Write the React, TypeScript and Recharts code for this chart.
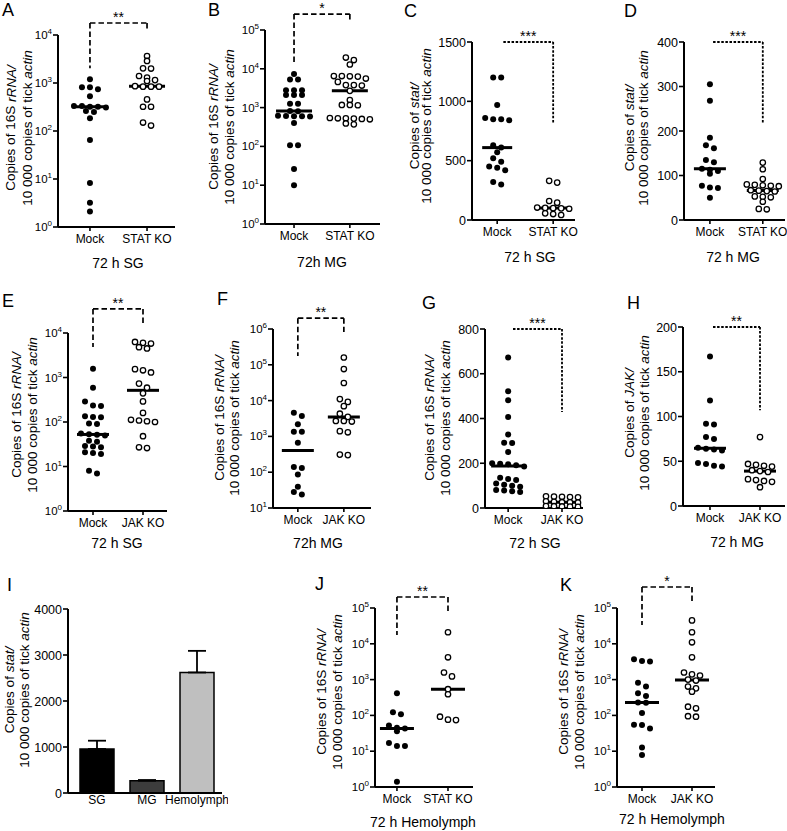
import React from 'react';
import { Bar, BarChart, Cell, ErrorBar, ReferenceLine, Scatter, ScatterChart, XAxis, YAxis } from 'recharts';

const FONT = '"Liberation Sans", Arial, Helvetica, sans-serif';

// A: 16S rRNA, 72 h SG, STAT KO
const aMock = [1200, 820, 820, 740, 530, 330, 330, 320, 320, 310, 260, 250, 185, 65, 8.3, 3.2, 2.1];
const aKo = [3650, 2880, 2020, 2000, 1400, 1300, 1150, 1100, 860, 840, 840, 840, 455, 320, 320, 150, 130];
// B: 16S rRNA, 72h MG, STAT KO
const bMock = [7300, 5300, 5300, 2800, 2800, 2800, 2100, 2100, 2100, 1250, 1250, 820, 800, 620, 610, 600, 600, 590, 400, 107, 107, 26, 10];
const bKo = [19500, 16800, 12900, 6500, 6500, 6400, 6300, 5600, 4600, 3800, 3800, 3700, 2700, 1560, 1170, 1170, 1150, 540, 530, 530, 520, 510, 500, 390, 370];
// C: stat, 72 h SG
const cMock = [1200, 1200, 970, 860, 850, 850, 840, 630, 610, 570, 520, 490, 450, 440, 420, 320, 300];
const cKo = [330, 315, 160, 146, 105, 102, 100, 98, 95, 56, 50, 42];
// D: stat, 72 h MG
const dMock = [305, 268, 185, 168, 161, 135, 130, 115, 113, 110, 104, 77, 73, 72, 50];
const dKo = [129, 114, 92, 80, 79, 78, 77, 76, 67, 66, 65, 64, 53, 52, 51, 41, 25, 24];
// E: 16S rRNA, 72 h SG, JAK KO
const eMock = [1580, 590, 290, 235, 230, 135, 130, 128, 92, 90, 55, 53, 52, 50, 38, 36, 29, 28, 27, 21, 20, 19, 8, 7];
const eKo = [6300, 6000, 5800, 4800, 4500, 1540, 1450, 1300, 730, 590, 440, 290, 160, 112, 108, 104, 100, 48, 27, 26];
// F: 16S rRNA, 72h MG, JAK KO
const fMock = [4600, 3700, 2200, 1350, 1350, 665, 140, 130, 86, 39, 28, 24];
const fKo = [160000, 76000, 31000, 11000, 9200, 7000, 4300, 3500, 2700, 2700, 2600, 1400, 1300, 310, 300];
// G: 16S rRNA, 72 h SG, JAK KO (linear)
const gMock = [673, 522, 482, 407, 328, 292, 290, 250, 200, 198, 195, 191, 185, 135, 130, 125, 110, 104, 100, 95, 80, 78, 75, 72];
const gKo = [52, 51, 50, 49, 48, 30, 28, 26, 25, 24, 9, 8, 7, 6, 5];
// H: JAK, 72 h MG
const hMock = [167, 118, 92, 91, 77, 75, 65, 64, 63, 62, 48, 47, 45, 44];
const hKo = [77, 47, 46, 45, 44, 40, 39, 38, 30, 29, 28, 27, 21];
// J: 16S rRNA, 72 h Hemolymph, STAT KO
const jMock = [415, 122, 107, 52, 45, 43, 36, 17, 14, 14, 1.4];
const jKo = [21000, 4200, 1580, 1230, 540, 390, 92, 76, 74];
// K: 16S rRNA, 72 h Hemolymph, JAK KO
const kMock = [3700, 3300, 3200, 820, 640, 415, 350, 230, 225, 117, 55, 54, 43, 12.6, 7.8];
const kKo = [45000, 21000, 11000, 4200, 1580, 1400, 1300, 1000, 940, 640, 570, 460, 175, 158, 95, 92];

// I: stat by tissue (mean + upper SEM)
const barCategories = ['SG', 'MG', 'Hemolymph'];
const barMeans = [957, 267, 2620];
const barErrors = [180, 15, 470];
const barColors = ['#000000', '#3c3c3c', '#bfbfbf'];

const log4 = [1, 10, 100, 1000, 10000];
const log5 = [1, 10, 100, 1000, 10000, 100000];
const log1to6 = [10, 100, 1000, 10000, 100000, 1000000];

type Bracket = { from: number; top: number; left?: number; right: number; stars: string; dotted?: boolean };
type Gene = 'rrna' | 'stat' | 'jak';
type PanelCfg = {
  letter: string;
  letterPos: [number, number];
  plot: [number, number, number, number];
  xDomain: [number, number];
  log: boolean;
  yDomain: [number, number];
  yTicks: number[];
  mock: number[];
  ko: number[];
  koLabel: string;
  medianHalf: number;
  bracket: Bracket;
  gene: Gene;
  ylabelX: [number, number];
  ylabelY: number;
  title: string;
  titlePos: [number, number];
};

const panels: PanelCfg[] = [
  {
    letter: 'A', letterPos: [2, 10], plot: [58, 175, 35, 227], xDomain: [0.44, 2.49], log: true,
    yDomain: [1, 1e4], yTicks: log4, mock: aMock, ko: aKo, koLabel: 'STAT KO', medianHalf: 18,
    bracket: { from: 1, top: 17800, left: 2040, right: 13300, stars: '**' },
    gene: 'rrna', ylabelX: [10.5, 27], ylabelY: 128, title: '72 h SG', titlePos: [118, 263],
  },
  {
    letter: 'B', letterPos: [208, 10], plot: [265, 380, 30, 224], xDomain: [0.48, 2.54], log: true,
    yDomain: [1, 1e5], yTicks: log5, mock: bMock, ko: bKo, koLabel: 'STAT KO', medianHalf: 18,
    bracket: { from: 1, top: 258000, left: 15000, right: 180000, stars: '*' },
    gene: 'rrna', ylabelX: [213, 229], ylabelY: 127, title: '72h MG', titlePos: [322, 262],
  },
  {
    letter: 'C', letterPos: [404, 11], plot: [472, 575, 42, 220], xDomain: [0.55, 2.39], log: false,
    yDomain: [0, 1500], yTicks: [0, 500, 1000, 1500], mock: cMock, ko: cKo, koLabel: 'STAT KO', medianHalf: 15,
    bracket: { from: 1.11, top: 1500, right: 817, stars: '***', dotted: true },
    gene: 'stat', ylabelX: [414, 426], ylabelY: 126, title: '72 h SG', titlePos: [530, 257],
  },
  {
    letter: 'D', letterPos: [624, 11], plot: [684, 785, 42, 220], xDomain: [0.51, 2.42], log: false,
    yDomain: [0, 400], yTicks: [0, 100, 200, 300, 400], mock: dMock, ko: dKo, koLabel: 'STAT KO', medianHalf: 16,
    bracket: { from: 1.06, top: 400, right: 218, stars: '***', dotted: true },
    gene: 'stat', ylabelX: [629, 643], ylabelY: 128, title: '72 h MG', titlePos: [733, 257],
  },
  {
    letter: 'E', letterPos: [2, 301], plot: [68, 167, 333, 511], xDomain: [0.5, 2.48], log: true,
    yDomain: [1, 1e4], yTicks: log4, mock: eMock, ko: eKo, koLabel: 'JAK KO', medianHalf: 16,
    bracket: { from: 1, top: 34700, left: 4870, right: 15900, stars: '**' },
    gene: 'rrna', ylabelX: [16, 32], ylabelY: 415, title: '72 h SG', titlePos: [117, 543],
  },
  {
    letter: 'F', letterPos: [217, 299], plot: [273, 371, 329, 508], xDomain: [0.46, 2.59], log: true,
    yDomain: [10, 1e6], yTicks: log1to6, mock: fMock, ko: fKo, koLabel: 'JAK KO', medianHalf: 16,
    bracket: { from: 1, top: 2000000, left: 176000, right: 830000, stars: '**' },
    gene: 'rrna', ylabelX: [219, 234], ylabelY: 418, title: '72h MG', titlePos: [318, 543],
  },
  {
    letter: 'G', letterPos: [422, 303], plot: [485, 583, 329, 508], xDomain: [0.57, 2.39], log: false,
    yDomain: [0, 800], yTicks: [0, 200, 400, 600, 800], mock: gMock, ko: gKo, koLabel: 'JAK KO', medianHalf: 17,
    bracket: { from: 1.09, top: 800, right: 429, stars: '***', dotted: true },
    gene: 'rrna', ylabelX: [429, 445], ylabelY: 418, title: '72 h SG', titlePos: [535, 543],
  },
  {
    letter: 'H', letterPos: [627, 303], plot: [683, 785, 327, 506], xDomain: [0.46, 2.5], log: false,
    yDomain: [0, 200], yTicks: [0, 50, 100, 150, 200], mock: hMock, ko: hKo, koLabel: 'JAK KO', medianHalf: 16,
    bracket: { from: 1.06, top: 200, right: 107, stars: '**', dotted: true },
    gene: 'jak', ylabelX: [629, 644], ylabelY: 413, title: '72 h MG', titlePos: [737, 542],
  },
  {
    letter: 'J', letterPos: [315, 584], plot: [375, 473, 608, 787], xDomain: [0.57, 2.49], log: true,
    yDomain: [1, 1e5], yTicks: log5, mock: jMock, ko: jKo, koLabel: 'STAT KO', medianHalf: 17,
    bracket: { from: 1, top: 203000, left: 17600, right: 72000, stars: '**' },
    gene: 'rrna', ylabelX: [321, 337], ylabelY: 692, title: '72 h Hemolymph', titlePos: [423, 822],
  },
  {
    letter: 'K', letterPos: [560, 585], plot: [617, 715, 608, 787], xDomain: [0.5, 2.46], log: true,
    yDomain: [1, 1e5], yTicks: log5, mock: kMock, ko: kKo, koLabel: 'JAK KO', medianHalf: 17,
    bracket: { from: 1, top: 386000, left: 33700, right: 138000, stars: '*' },
    gene: 'rrna', ylabelX: [563, 579], ylabelY: 692, title: '72 h Hemolymph', titlePos: [672, 819],
  },
];

// bar panel I layout
const barPlot: [number, number, number, number] = [68, 222, 609, 793];
const TOP = 45;

function median(vals: number[]) {
  const s = [...vals].sort((a, b) => a - b);
  const n = s.length;
  return n % 2 ? s[(n - 1) / 2] : (s[n / 2 - 1] + s[n / 2]) / 2;
}

// simple GraphPad-like scatter: points closer than `gap` px vertically share a row and spread sideways
function swarm(values: number[], toPx: (v: number) => number, gap: number, step: number) {
  const order = values.map((v, i) => ({ v, i })).sort((a, b) => b.v - a.v);
  const offsets = new Array(values.length).fill(0);
  let row: { v: number; i: number }[] = [];
  let rowStart = 0;
  const flush = () => row.forEach((p, k) => { offsets[p.i] = (k - (row.length - 1) / 2) * step; });
  for (const p of order) {
    const py = toPx(p.v);
    if (row.length && py - rowStart > gap) { flush(); row = []; }
    if (!row.length) rowStart = py;
    row.push(p);
  }
  if (row.length) flush();
  return offsets;
}

const axisLine = { stroke: '#000', strokeWidth: 2 };
const tickLine = { stroke: '#000', strokeWidth: 1.6 };

const filledDot = (p: any) => <circle cx={p.cx} cy={p.cy} r={3} fill="#000" />;
const openDot = (p: any) => <circle cx={p.cx} cy={p.cy} r={2.7} fill="#fff" stroke="#000" strokeWidth={1.3} />;

function YTick(props: any) {
  const { x, y, payload, log } = props;
  if (log) {
    const exp = Math.round(Math.log10(payload.value));
    return (
      <text x={x} y={y + 4} textAnchor="end" fontFamily={FONT} fontSize={11.5} fill="#000">
        10<tspan dy={-5} fontSize={8}>{exp}</tspan>
      </text>
    );
  }
  return (
    <text x={x} y={y + 4.5} textAnchor="end" fontFamily={FONT} fontSize={12.5} fill="#000">
      {payload.value}
    </text>
  );
}

function XTick(props: any) {
  const { x, y, payload, labels } = props;
  const text = labels ? labels(payload.value) : payload.value;
  return (
    <text x={x} y={y + 10} textAnchor="middle" fontFamily={FONT} fontSize={12} fill="#000">
      {text}
    </text>
  );
}

function DotPanel({ cfg }: { cfg: PanelCfg }) {
  const [x0, x1, y0, y1] = cfg.plot;
  const plotW = x1 - x0;
  const plotH = y1 - y0;
  const unitPx = plotW / (cfg.xDomain[1] - cfg.xDomain[0]);
  const [dMin, dMax] = cfg.yDomain;
  const toPx = cfg.log
    ? (v: number) => ((Math.log10(dMax) - Math.log10(v)) / (Math.log10(dMax) - Math.log10(dMin))) * plotH
    : (v: number) => ((dMax - v) / (dMax - dMin)) * plotH;
  const toPoints = (vals: number[], group: number) => {
    const off = swarm(vals, toPx, 4.5, 8);
    return vals.map((v, i) => ({ x: group + off[i] / unitPx, y: v }));
  };
  const mockPts = toPoints(cfg.mock, 1);
  const koPts = toPoints(cfg.ko, 2);
  const half = cfg.medianHalf / unitPx;
  const mMed = median(cfg.mock);
  const kMed = median(cfg.ko);
  const b = cfg.bracket;
  const bStyle = b.dotted
    ? { stroke: '#000', strokeWidth: 1.8, strokeDasharray: '2.5 1.6' }
    : { stroke: '#000', strokeWidth: 1.7, strokeDasharray: '5.5 3' };
  const names = (v: number) => (v === 1 ? 'Mock' : cfg.koLabel);

  return (
    <div style={{ position: 'absolute', left: x0 - 45, top: y0 - TOP }}>
      <ScatterChart width={plotW + 51} height={plotH + TOP + 20} margin={{ top: TOP, right: 6, bottom: 0, left: 0 }}>
        <XAxis
          type="number"
          dataKey="x"
          domain={cfg.xDomain}
          ticks={[1, 2]}
          interval={0}
          allowDataOverflow
          height={20}
          axisLine={axisLine}
          tickLine={tickLine}
          tickSize={4}
          tickMargin={2}
          tick={(p: any) => <XTick {...p} labels={names} />}
        />
        <YAxis
          type="number"
          dataKey="y"
          scale={cfg.log ? 'log' : 'linear'}
          domain={cfg.yDomain}
          ticks={cfg.yTicks}
          interval={0}
          allowDataOverflow
          width={45}
          axisLine={axisLine}
          tickLine={tickLine}
          tickSize={5}
          tickMargin={1}
          tick={(p: any) => <YTick {...p} log={cfg.log} />}
        />
        <Scatter data={mockPts} shape={filledDot} isAnimationActive={false} />
        <Scatter data={koPts} shape={openDot} isAnimationActive={false} />
        <ReferenceLine segment={[{ x: 1 - half, y: mMed }, { x: 1 + half, y: mMed }]} stroke="#000" strokeWidth={3} ifOverflow="visible" />
        <ReferenceLine segment={[{ x: 2 - half, y: kMed }, { x: 2 + half, y: kMed }]} stroke="#000" strokeWidth={3} ifOverflow="visible" />
        <ReferenceLine
          segment={[{ x: b.from, y: b.top }, { x: 2, y: b.top }]}
          {...bStyle}
          ifOverflow="visible"
          label={{ value: b.stars, position: 'top', offset: 1, fill: '#000', fontSize: 14, fontFamily: FONT }}
        />
        {b.left !== undefined && (
          <ReferenceLine segment={[{ x: 1, y: b.top }, { x: 1, y: b.left }]} {...bStyle} ifOverflow="visible" />
        )}
        <ReferenceLine segment={[{ x: 2, y: b.top }, { x: 2, y: b.right }]} {...bStyle} ifOverflow="visible" />
      </ScatterChart>
    </div>
  );
}

function BarPanel() {
  const [x0, x1, y0, y1] = barPlot;
  const data = barCategories.map((name, i) => ({ name, value: barMeans[i], err: [0, barErrors[i]] }));
  return (
    <div style={{ position: 'absolute', left: x0 - 45, top: y0 - TOP }}>
      <BarChart width={x1 - x0 + 51} height={y1 - y0 + TOP + 22} data={data} margin={{ top: TOP, right: 6, bottom: 0, left: 0 }}>
        <XAxis
          dataKey="name"
          height={22}
          axisLine={axisLine}
          tickLine={false}
          tickSize={0}
          tickMargin={1}
          padding={{ left: 4, right: 0 }}
          interval={0}
          tick={(p: any) => <XTick {...p} />}
        />
        <YAxis
          type="number"
          domain={[0, 4000]}
          ticks={[0, 1000, 2000, 3000, 4000]}
          interval={0}
          width={45}
          axisLine={axisLine}
          tickLine={tickLine}
          tickSize={5}
          tickMargin={1}
          tick={(p: any) => <YTick {...p} log={false} />}
        />
        <Bar dataKey="value" barSize={34} stroke="#000" strokeWidth={1.5} isAnimationActive={false}>
          {data.map((d, i) => (
            <Cell key={d.name} fill={barColors[i]} />
          ))}
          <ErrorBar dataKey="err" width={9} stroke="#000" strokeWidth={1.8} direction="y" />
        </Bar>
      </BarChart>
    </div>
  );
}

function YLabel({ x1, x2, y, gene }: { x1: number; x2: number; y: number; gene: Gene }) {
  const first = gene === 'rrna' ? ['Copies of 16S ', 'rRNA/'] : gene === 'stat' ? ['Copies of ', 'stat/'] : ['Copies of ', 'JAK/'];
  return (
    <g fontSize={13.5} fill="#000">
      <text x={x1} y={y} textAnchor="middle" dominantBaseline="central" transform={`rotate(-90 ${x1} ${y})`}>
        {first[0]}
        <tspan fontStyle="italic">{first[1]}</tspan>
      </text>
      <text x={x2} y={y} textAnchor="middle" dominantBaseline="central" transform={`rotate(-90 ${x2} ${y})`}>
        10 000 copies of tick <tspan fontStyle="italic">actin</tspan>
      </text>
    </g>
  );
}

function Overlay() {
  return (
    <svg width={787} height={831} style={{ position: 'absolute', left: 0, top: 0, pointerEvents: 'none' }} fontFamily={FONT}>
      {panels.map((p) => (
        <g key={p.letter}>
          <text x={p.letterPos[0]} y={p.letterPos[1]} dominantBaseline="central" fontSize={18} fill="#000">
            {p.letter}
          </text>
          <YLabel x1={p.ylabelX[0]} x2={p.ylabelX[1]} y={p.ylabelY} gene={p.gene} />
          <text x={p.titlePos[0]} y={p.titlePos[1]} textAnchor="middle" dominantBaseline="central" fontSize={14} fill="#000">
            {p.title}
          </text>
        </g>
      ))}
      <text x={7} y={585} dominantBaseline="central" fontSize={18} fill="#000">
        I
      </text>
      <YLabel x1={9} x2={24} y={690} gene="stat" />
    </svg>
  );
}

export default function App() {
  return (
    <div style={{ position: 'absolute', left: 0, top: 0, width: 787, height: 831, overflow: 'hidden', background: '#fff', fontFamily: FONT }}>
      {panels.map((p) => (
        <DotPanel key={p.letter} cfg={p} />
      ))}
      <BarPanel />
      <Overlay />
    </div>
  );
}
